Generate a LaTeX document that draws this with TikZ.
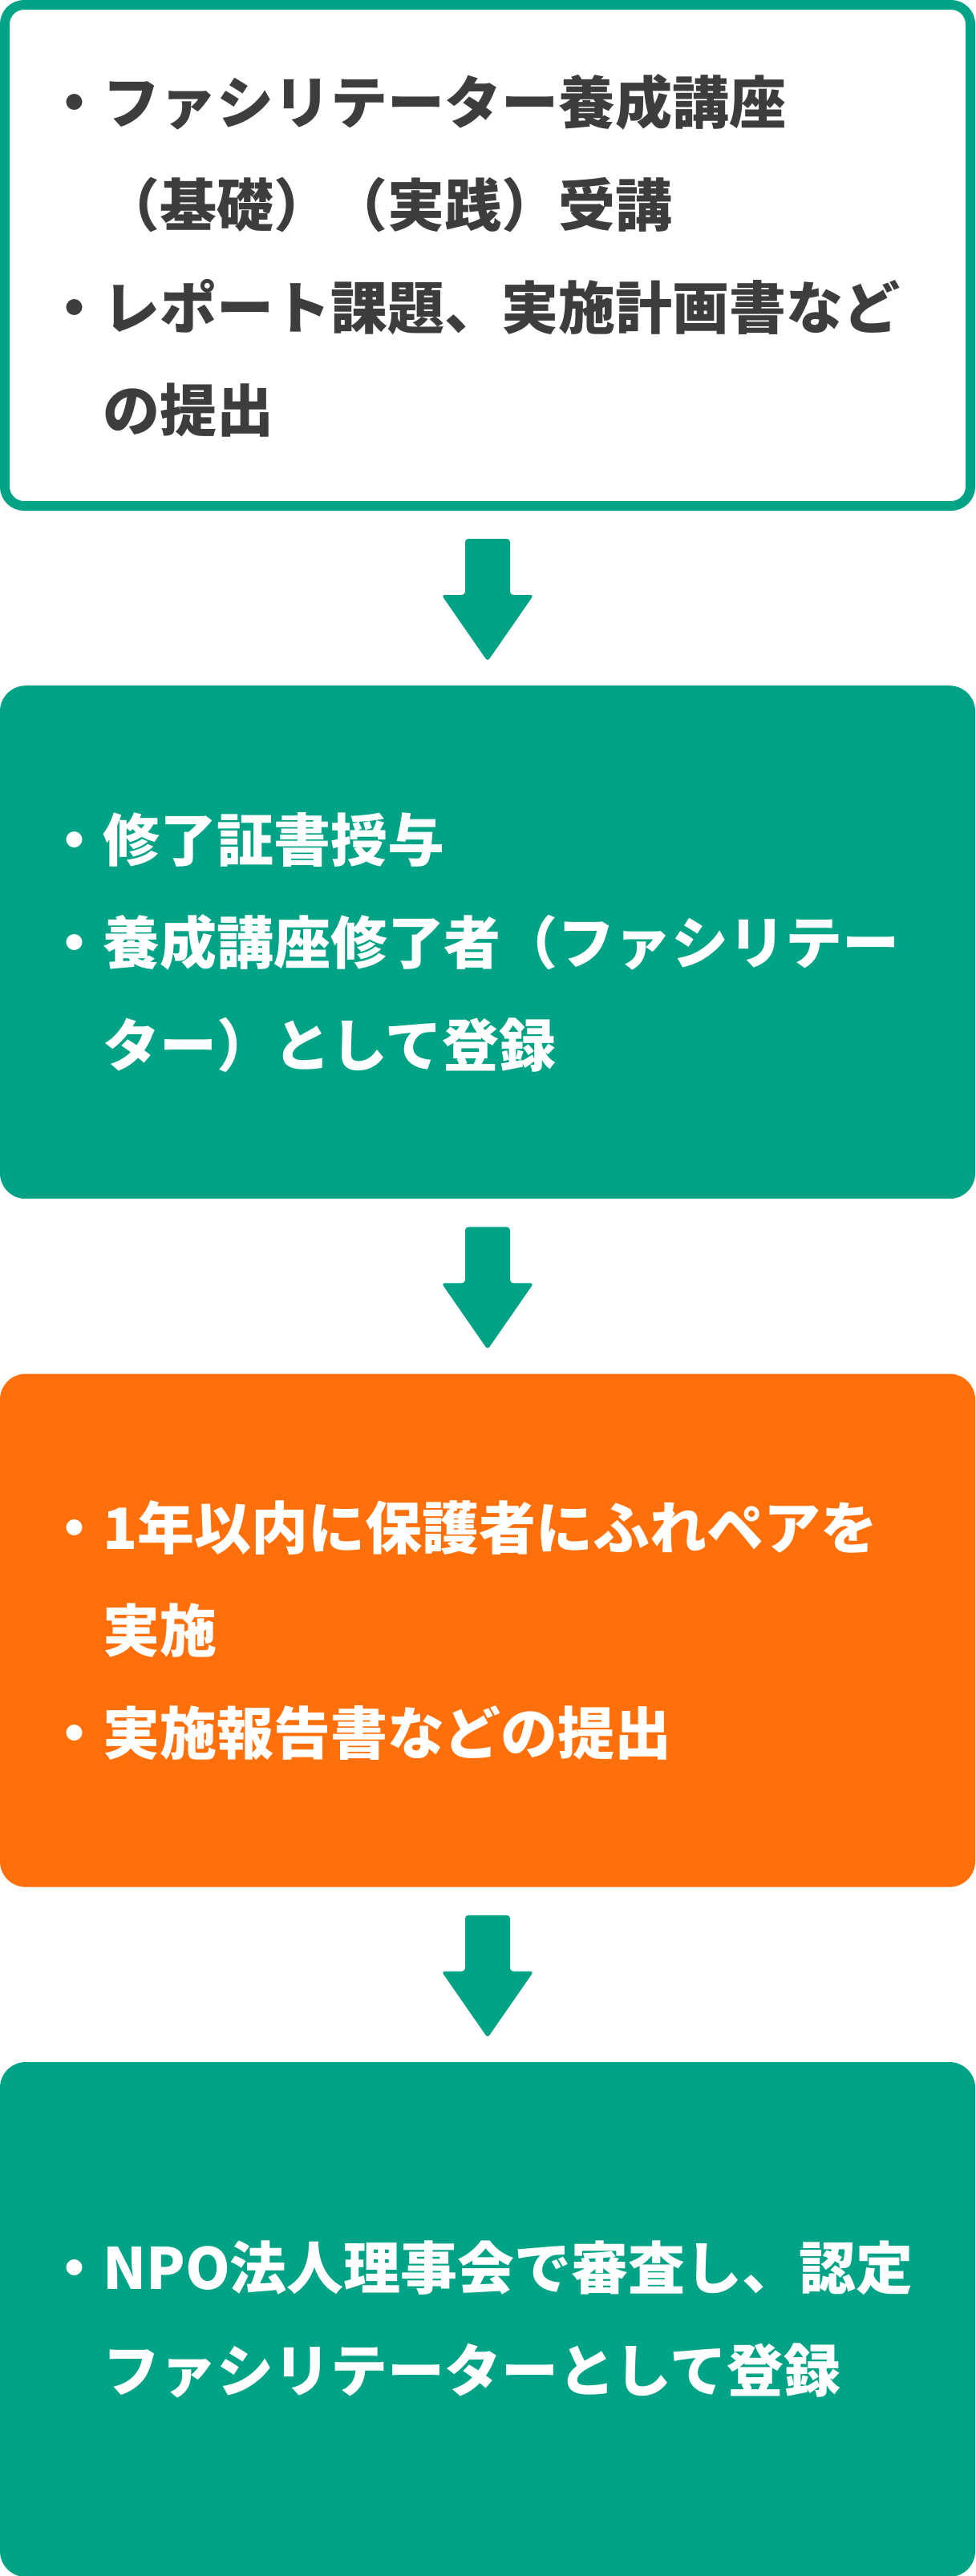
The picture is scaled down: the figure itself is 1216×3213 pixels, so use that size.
\documentclass[tikz,border=0pt]{standalone}
\usepackage{fontspec}
\setmainfont{Noto Sans CJK JP}
\usepackage{xcolor}
\usepackage{tikz}
\usetikzlibrary{positioning, calc}

\definecolor{flowgreen}{HTML}{00A385}
\definecolor{floworange}{HTML}{FF700A}
\definecolor{inkgray}{HTML}{3D3D3D}

\begin{document}
\begin{tikzpicture}[
    x=1pt, y=1pt,
    node distance=218pt,
    stage/.style={rectangle, rounded corners=32pt, minimum width=1216pt, minimum height=640pt, inner sep=0pt},
    firststage/.style={stage, draw=flowgreen, line width=12pt, fill=white, rounded corners=24pt, minimum width=1204pt, minimum height=625pt},
    greenstage/.style={stage, fill=flowgreen},
    orangestage/.style={stage, fill=floworange},
    itemtext/.style={anchor=west, align=left, inner sep=0pt, text=white, font=\fontsize{71pt}{128pt}\selectfont\bfseries},
    flowarrow/.style={fill=flowgreen, rounded corners=4pt}
]
\useasboundingbox (0,0) rectangle (1216,-3213);

\node[firststage] (s1) at (608,-318.5) {};
\node[greenstage, below=of s1] (s2) {};
\node[orangestage, below=of s2] (s3) {};
\node[greenstage, below=of s3, minimum height=642pt] (s4) {};

\node[itemtext, text=inkgray] (t1) at ([xshift=57pt]s1.west) {・ファシリテーター養成講座\\\hspace*{1em}（基礎）（実践）受講\\・レポート課題、実施計画書など\\\hspace*{1em}の提出};
\node[itemtext] (t2) at ([xshift=57pt]s2.west) {・修了証書授与\\・養成講座修了者（ファシリテー\\\hspace*{1em}ター）として登録};
\node[itemtext] (t3) at ([xshift=57pt]s3.west) {・1年以内に保護者にふれペアを\\\hspace*{1em}実施\\・実施報告書などの提出};
\node[itemtext] (t4) at ([xshift=57pt]s4.west) {・NPO法人理事会で審査し、認定\\\hspace*{1em}ファシリテーターとして登録};

% block arrows between the stages
\foreach \a/\b in {s1/s2, s2/s3, s3/s4}
  \fill[flowarrow] ([xshift=-28pt, yshift=-35pt]\a.south) -- ([xshift=28pt, yshift=-35pt]\a.south)
    -- ([xshift=28pt, yshift=113pt]\b.north) -- ([xshift=57.5pt, yshift=113pt]\b.north)
    -- ([yshift=30pt]\b.north) -- ([xshift=-57.5pt, yshift=113pt]\b.north)
    -- ([xshift=-28pt, yshift=113pt]\b.north) -- cycle;

\end{tikzpicture}
\end{document}
